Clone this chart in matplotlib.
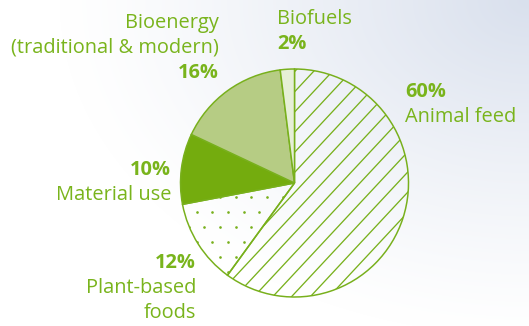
import numpy as np
import matplotlib
matplotlib.use("Agg")
import matplotlib.pyplot as plt
from matplotlib.colors import to_rgb
from matplotlib.collections import LineCollection

# Shares of global biomass use (%)
categories = ["Animal feed", "Plant-based foods", "Material use",
              "Bioenergy (traditional & modern)", "Biofuels"]
shares = [60, 12, 10, 16, 2]

# Label text per category: (line, bold)
label_lines = {
    "Biofuels": [("Biofuels", False), ("2%", True)],
    "Bioenergy (traditional & modern)": [("Bioenergy", False),
                                         ("(traditional & modern)", False),
                                         ("16%", True)],
    "Animal feed": [("60%", True), ("Animal feed", False)],
    "Material use": [("10%", True), ("Material use", False)],
    "Plant-based foods": [("12%", True), ("Plant-based", False), ("foods", False)],
}

W, H, DPI = 529, 326, 72
GREEN = "#78b01c"
TEXT_GREEN = "#79b41c"

plt.rcParams["font.family"] = ["Open Sans", "DejaVu Sans"]

fig = plt.figure(figsize=(W / DPI, H / DPI), dpi=DPI)

# soft bluish backdrop brightening toward the lower left
bg = fig.add_axes([0, 0, 1, 1], zorder=0)
yy, xx = np.mgrid[0:H, 0:W]
d = np.hypot((xx - W) * 1.0, yy * 1.4)
f = np.clip(1 - d / 470.0, 0, 1) ** 1.2
c0 = np.array(to_rgb("#ffffff"))
c1 = np.array(to_rgb("#d9e0ed"))
img = c0[None, None, :] * (1 - f[..., None]) + c1[None, None, :] * f[..., None]
bg.imshow(img, extent=(0, W, H, 0), aspect="auto", interpolation="bilinear")
bg.set_xlim(0, W)
bg.set_ylim(H, 0)
bg.axis("off")

# pie (radius 1 in data units = r pixels)
cx, cy, r = 294.5, 183.0, 114.0
pad = 1.1
ax = fig.add_axes([(cx - r * pad) / W, (H - cy - r * pad) / H,
                   2 * r * pad / W, 2 * r * pad / H], zorder=1)
ax.patch.set_alpha(0)
fills = ["none", "none", "#74ac0e", "#b6cc84", "#e6efd7"]
wedges, _ = ax.pie(shares, startangle=90, counterclock=False, radius=1,
                   wedgeprops=dict(edgecolor=GREEN, linewidth=1.5))
for w, fc in zip(wedges, fills):
    w.set_facecolor(fc)
    w.set_zorder(2)

# diagonal line fill for animal feed
ang = np.deg2rad(47)
u = np.array([np.cos(ang), np.sin(ang)])
n = np.array([-np.sin(ang), np.cos(ang)])
step = 13.75 / r
p0 = np.array([-0.346, -0.456])
c_base = n @ p0
segs = []
for k in range(-20, 21):
    c = c_base + k * step
    mid = n * c
    segs.append([mid - 2 * u, mid + 2 * u])
lc = LineCollection(segs, colors=GREEN, linewidths=1.3, zorder=1)
ax.add_collection(lc)
lc.set_clip_path(wedges[0])

# dotted fill for plant-based foods
dx, dy = 15.6 / r, 15.0 / r
ox, oy = (196.7 - cx) / r, (cy - 211.7) / r
pts = []
for j in range(-12, 13):
    shift = 0.5 * dx if j % 2 else 0.0
    for i in range(-12, 13):
        pts.append((ox + i * dx + shift, oy - j * dy))
pts = np.array(pts)
sc = ax.scatter(pts[:, 0], pts[:, 1], s=7, color=GREEN, linewidths=0, zorder=1)
sc.set_clip_path(wedges[1])

ax.set_xlim(-pad, pad)
ax.set_ylim(-pad, pad)
ax.axis("off")

# labels
label_pos = {
    "Biofuels": (277, 24, "left"),
    "Bioenergy (traditional & modern)": (219, 28, "right"),
    "Animal feed": (405, 97, "left"),
    "Material use": (171, 175, "right"),
    "Plant-based foods": (196, 268, "right"),
}
line_gap = 25
for cat in categories:
    x, y0, ha = label_pos[cat]
    for i, (txt, bold) in enumerate(label_lines[cat]):
        fig.text(x / W, 1 - (y0 + i * line_gap) / H, txt, ha=ha, va="baseline",
                 fontsize=20, color=TEXT_GREEN,
                 fontweight="bold" if bold else "normal", zorder=3)

fig.savefig("out.png", dpi=DPI)
